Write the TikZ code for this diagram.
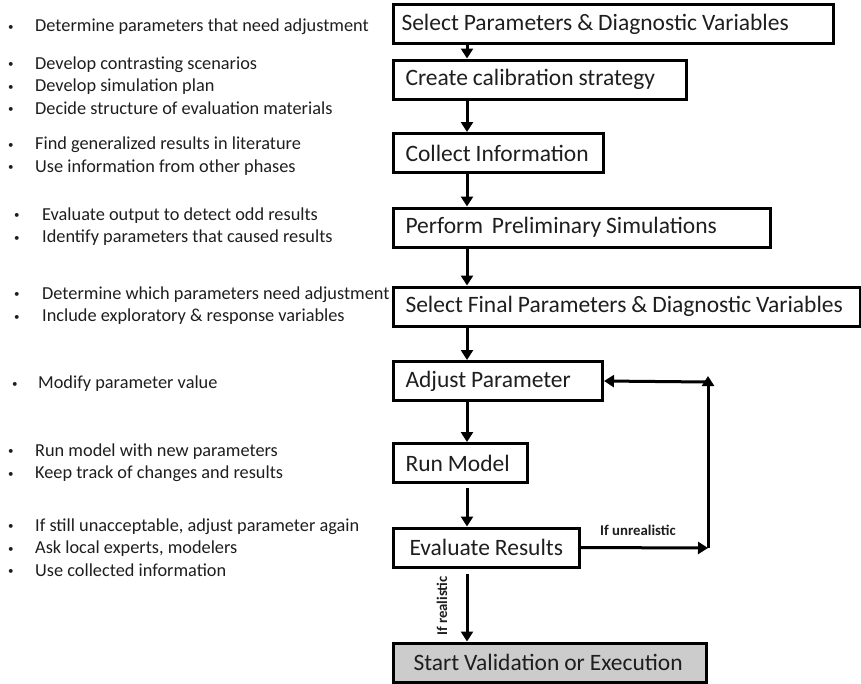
\documentclass[tikz,border=0pt]{standalone}
\usepackage{fontspec}
\setmainfont{Carlito}
\usetikzlibrary{arrows.meta}
\definecolor{ink}{HTML}{1E1E1E}
% box label of fixed width, left aligned, with slightly tighter word spaces
\newcommand{\steptext}[2]{\makebox[#1][l]{\spaceskip=0.21em\relax #2}}
\begin{document}
\begin{tikzpicture}[x=1pt,y=-1pt,
  stepbox/.style={draw=black, line width=3pt, anchor=west,
    minimum height=39pt, inner ysep=0pt, inner xsep=12pt, text=ink,
    font=\fontsize{23.5}{26}\selectfont},
  notes/.style={anchor=west, align=left, inner sep=0pt, text=ink,
    font=\fontsize{18.3}{22.5}\selectfont},
  flow/.style={line width=3pt, -{Triangle[width=12pt,length=10pt]}},
  cond/.style={font=\bfseries\fontsize{14.8}{16}\selectfont, text=ink, inner sep=0pt}]
\useasboundingbox (0,0) rectangle (861,683);
\newcommand{\bul}[1]{\makebox[#1][l]{\raisebox{1.5pt}{\fontsize{11}{11}\selectfont•}}}

% process boxes
\node[stepbox, inner xsep=8pt] (sel) at (392,24)
  {\steptext{424pt}{Select Parameters \& Diagnostic Variables}};
\node[stepbox] (cal) at (392,79.5) {\steptext{269pt}{Create calibration strategy}};
\node[stepbox] (col) at (392,153) {\steptext{186pt}{Collect Information}};
\node[stepbox] (pre) at (392,227.5) {\steptext{353pt}{Perform\, Preliminary Simulations}};
\node[stepbox] (fin) at (392,306.5)
  {\steptext{443pt}{Select Final Parameters \& Diagnostic Variables}};
\node[stepbox] (adj) at (392,381) {\steptext{185pt}{Adjust Parameter}};
\node[stepbox] (run) at (392,463) {\steptext{110pt}{Run Model}};
\node[stepbox, inner xsep=16pt] (eva) at (392,547.5) {\steptext{154pt}{Evaluate Results}};
\node[stepbox, fill=black!20, inner xsep=20pt] (val) at (392,662.5)
  {\steptext{273pt}{Start Validation or Execution}};

% main flow
\draw[flow] (sel.south -| 467,0) -- (cal.north -| 467,0);
\draw[flow] (cal.south -| 467,0) -- (col.north -| 467,0);
\draw[flow] (col.south -| 467,0) -- (pre.north -| 467,0);
\draw[flow] (pre.south -| 467,0) -- (fin.north -| 467,0);
\draw[flow] (fin.south -| 467,0) -- (adj.north -| 467,0);
\draw[flow] (adj.south -| 467,0) -- (run.north -| 467,0);
\draw[flow] (run.south -| 467,0) ++(0,4) -- (eva.north -| 467,0);
\draw[flow] (eva.south -| 467,0) ++(0,5) -- (val.north -| 467,0);
\node[cond, rotate=90] (real) at (442,606) {If realistic};

% feedback loop
\coordinate (fb) at (708,548);
\coordinate (fbtop) at (708,382);
\draw[flow] (eva.east) -- (fb);
\draw[flow] (fb) -- ++(0,-172);
\draw[flow] (fbtop) -- (adj.east);
\node[cond] (unreal) at (638,530) {If unrealistic};

% notes for each step
\node[notes] (n1) at (8,27) {\bul{27pt}Determine parameters that need adjustment};
\node[notes] (n2) at (8,85.5) {\bul{27pt}Develop contrasting scenarios\\
  \bul{27pt}Develop simulation plan\\
  \bul{27pt}Decide structure of evaluation materials};
\node[notes] (n3) at (8,156) {\bul{27pt}Find generalized results in literature\\
  \bul{27pt}Use information from other phases};
\node[notes] (n4) at (14,226.5) {\bul{28pt}Evaluate output to detect odd results\\
  \bul{28pt}Identify parameters that caused results};
\node[notes] (n5) at (14,305.5) {\bul{28pt}Determine which parameters need adjustment\\
  \bul{28pt}Include exploratory \& response variables};
\node[notes] (n6) at (12,384) {\bul{26pt}Modify parameter value};
\node[notes] (n7) at (8,462.5) {\bul{27pt}Run model with new parameters\\
  \bul{27pt}Keep track of changes and results};
\node[notes] (n8) at (8,547.5) {\bul{27pt}If still unacceptable, adjust parameter again\\
  \bul{27pt}Ask local experts, modelers\\
  \bul{27pt}Use collected information};
\end{tikzpicture}
\end{document}
